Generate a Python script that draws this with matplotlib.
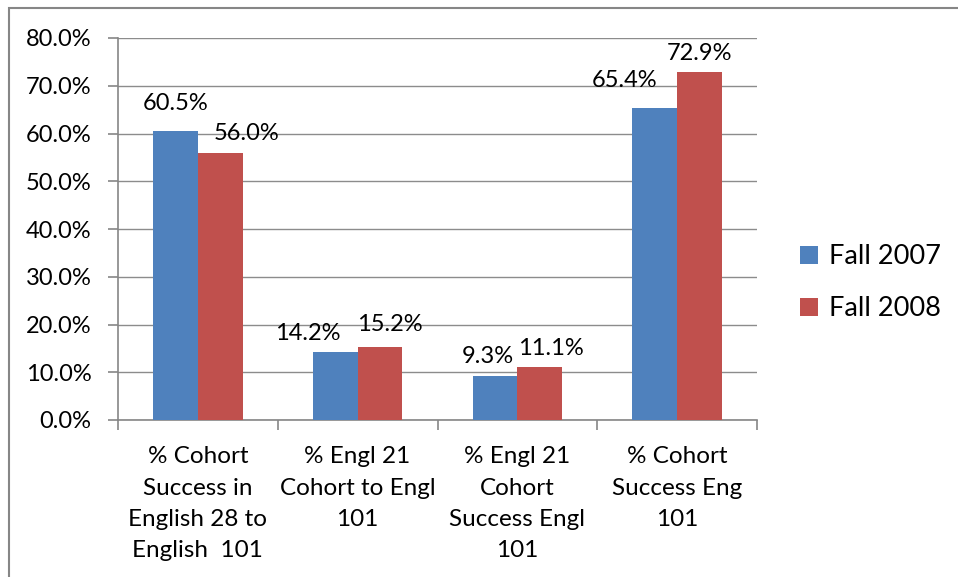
import numpy as np
import matplotlib
matplotlib.use("Agg")
import matplotlib.pyplot as plt
from matplotlib.patches import Rectangle, Patch
from matplotlib.ticker import FuncFormatter, FixedLocator

plt.rcParams['font.family'] = ['Lato', 'DejaVu Sans']

categories = ["% Cohort\nSuccess in\nEnglish 28 to\nEnglish  101",
              "% Engl 21\nCohort to Engl\n101",
              "% Engl 21\nCohort\nSuccess Engl\n101",
              "% Cohort\nSuccess Eng\n101"]
fall_2007 = [60.5, 14.2, 9.3, 65.4]
fall_2008 = [56.0, 15.2, 11.1, 72.9]
series_names = ["Fall 2007", "Fall 2008"]
colors = ["#4F81BD", "#C0504D"]

# label nudges (points) to mimic Excel's overlap shuffling
off_2007 = [(0, 12), (-20, 6), (-5, 6), (-22, 12)]
off_2008 = [(19, 6), (7, 9), (8, 6), (0, 6)]

fig = plt.figure(figsize=(9.58, 5.77), dpi=100)
fig.patches.append(Rectangle((9 / 958, -0.05), 1.1, 1.05 - 8 / 577,
                             transform=fig.transFigure, fill=False,
                             edgecolor="#868686", linewidth=1.5))
ax = fig.add_axes([118 / 958, 1 - 420 / 577, (757 - 118) / 958, (420 - 38) / 577])

x = np.arange(len(categories))
w = 0.28
b1 = ax.bar(x - w / 2, fall_2007, w, color=colors[0], edgecolor="none", zorder=3)
b2 = ax.bar(x + w / 2, fall_2008, w, color=colors[1], edgecolor="none", zorder=3)

for bars, vals, offs in [(b1, fall_2007, off_2007), (b2, fall_2008, off_2008)]:
    for bar, v, (dx, dy) in zip(bars, vals, offs):
        ax.annotate(f"{v:.1f}%", (bar.get_x() + bar.get_width() / 2, v),
                    xytext=(dx, dy), textcoords="offset points",
                    ha="center", va="bottom", fontsize=17, zorder=4)

ax.set_ylim(0, 80)
ax.set_xlim(-0.5, len(categories) - 0.5)
ax.set_yticks(np.arange(0, 81, 10))
ax.yaxis.set_major_formatter(FuncFormatter(lambda v, p: f"{v:.1f}%"))
ax.grid(axis="y", color="#8C8C8C", linewidth=1.0, zorder=0)

ax.set_xticks(x)
ax.set_xticklabels(categories, fontsize=17.5, linespacing=1.6)
ax.xaxis.set_minor_locator(FixedLocator(np.arange(-0.5, len(categories), 1)))
ax.tick_params(axis="x", which="major", length=0, pad=19)
ax.tick_params(axis="x", which="minor", length=7, width=1.2, color="#868686")
ax.tick_params(axis="y", length=7, width=1.2, color="#868686", labelsize=17, pad=12)

for s in ["top", "right"]:
    ax.spines[s].set_visible(False)
for s in ["left", "bottom"]:
    ax.spines[s].set_color("#868686")
    ax.spines[s].set_linewidth(1.2)

handles = [Patch(facecolor=c, edgecolor="none") for c in colors]
fig.legend(handles, series_names, loc="center left", bbox_to_anchor=(0.81, 0.51),
           frameon=False, fontsize=19.5, handlelength=0.65, handleheight=0.65,
           handletextpad=0.4, labelspacing=1.0)

fig.savefig("out.png", dpi=100)
